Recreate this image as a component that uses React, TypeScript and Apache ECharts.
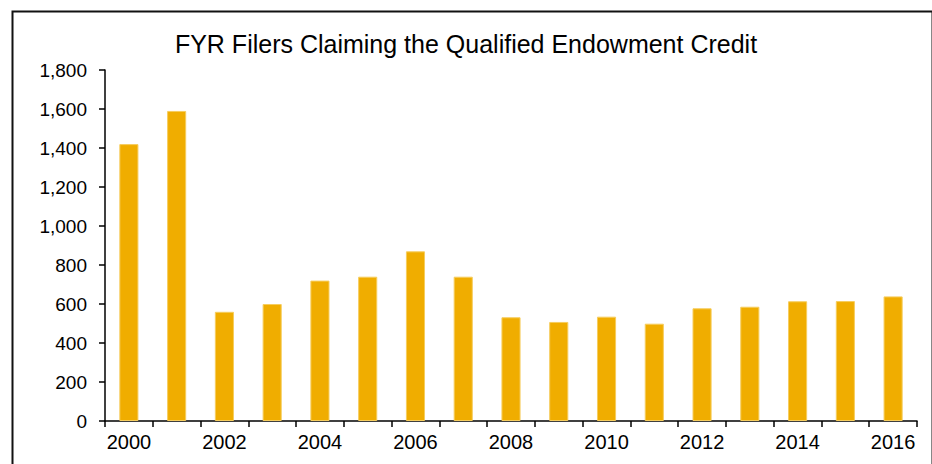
import React, { useEffect, useRef } from "react";
import * as echarts from "echarts";

const years = ["2000","2001","2002","2003","2004","2005","2006","2007","2008","2009","2010","2011","2012","2013","2014","2015","2016"];
const filers = [1420, 1590, 560, 600, 720, 740, 870, 740, 532, 508, 535, 499, 578, 586, 614, 615, 639];
const titleText = "FYR Filers Claiming the Qualified Endowment Credit";

const FONT = "'Liberation Sans', Arial, Helvetica, sans-serif";

export default function App() {
  const ref = useRef<HTMLDivElement>(null);
  useEffect(() => {
    if (!ref.current) return;
    const chart = echarts.init(ref.current, null, { renderer: "svg" });
    chart.setOption({
      animation: false,
      backgroundColor: "#ffffff",
      title: {
        text: titleText,
        left: "center",
        top: 26,
        itemGap: 0,
        textStyle: { fontFamily: FONT, fontSize: 25, fontWeight: "normal", color: "#000" },
      },
      graphic: [
        {
          type: "rect",
          left: 10,
          top: 9,
          shape: { x: 0, y: 0, width: 920, height: 470 },
          style: { fill: "none", stroke: "#111", lineWidth: 2 },
          silent: true,
        },
      ],
      grid: { left: 105, right: 15, top: 70, bottom: 43, containLabel: false },
      xAxis: {
        type: "category",
        data: years,
        boundaryGap: true,
        axisLine: { lineStyle: { color: "#000", width: 1.5 } },
        axisTick: { show: true, alignWithLabel: false, interval: 0, length: 6, lineStyle: { color: "#000", width: 1.5 } },
        axisLabel: { interval: 1, margin: 11, fontFamily: FONT, fontSize: 20, color: "#000" },
        splitLine: { show: false },
      },
      yAxis: {
        type: "value",
        min: 0,
        max: 1800,
        interval: 200,
        axisLine: { show: true, lineStyle: { color: "#000", width: 1.5 } },
        axisTick: { show: true, length: 6, lineStyle: { color: "#000", width: 1.5 } },
        axisLabel: {
          margin: 18,
          fontFamily: FONT,
          fontSize: 19,
          color: "#000",
          formatter: (v: number) => v.toLocaleString("en-US"),
        },
        splitLine: { show: false },
      },
      series: [
        {
          type: "bar",
          data: filers,
          barWidth: "40%",
          itemStyle: { color: "#F0AD00", borderColor: "#F6CD5E", borderWidth: 1 },
        },
      ],
    });
    return () => chart.dispose();
  }, []);
  return (
    <div
      ref={ref}
      style={{ position: "fixed", left: 0, top: 0, width: 932, height: 464, background: "#fff" }}
    />
  );
}
